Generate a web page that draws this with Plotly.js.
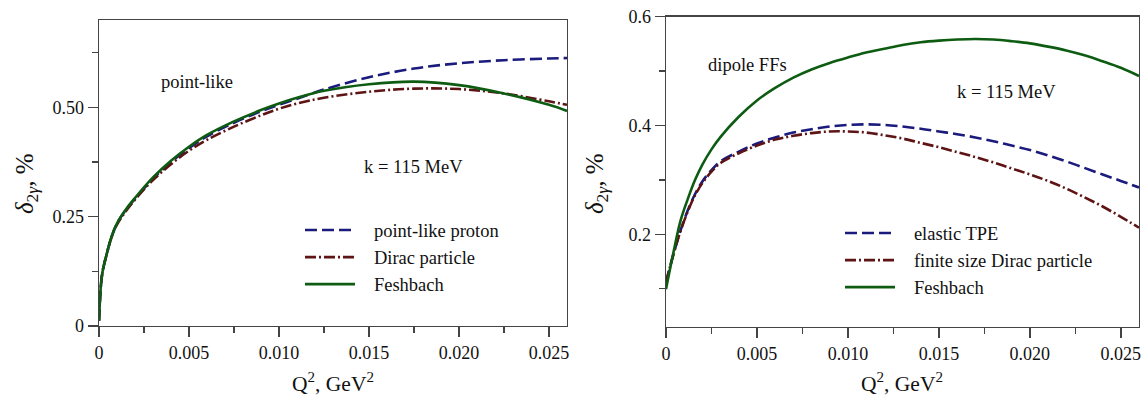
<!DOCTYPE html>
<html>
<head>
<meta charset="utf-8">
<script src="https://cdn.plot.ly/plotly-3.0.1.min.js"></script>
<style>html,body{margin:0;padding:0;background:#fff;}#chart{width:1142px;height:400px;}</style>
</head>
<body>
<div id="chart"></div>
<script>
// ---------- data ----------
const q2Left = [0, 0.0001, 0.0002, 0.0004, 0.0007, 0.001, 0.0015, 0.002, 0.003, 0.004, 0.005, 0.006, 0.0075, 0.009, 0.010, 0.011, 0.0125, 0.015, 0.0175, 0.020, 0.0225, 0.025, 0.026];
const pointLikeProton = [0.012, 0.09, 0.125, 0.16, 0.204, 0.234, 0.266, 0.291, 0.337, 0.375, 0.407, 0.434, 0.465, 0.491, 0.506, 0.520, 0.541, 0.569, 0.589, 0.601, 0.608, 0.612, 0.613];
const diracParticle   = [0.012, 0.09, 0.125, 0.16, 0.203, 0.232, 0.263, 0.289, 0.334, 0.370, 0.401, 0.426, 0.456, 0.482, 0.497, 0.509, 0.522, 0.536, 0.543, 0.542, 0.532, 0.514, 0.506];
const feshbachLeft    = [0.012, 0.09, 0.125, 0.16, 0.205, 0.235, 0.267, 0.293, 0.340, 0.378, 0.410, 0.437, 0.468, 0.494, 0.509, 0.522, 0.538, 0.553, 0.559, 0.551, 0.532, 0.506, 0.492];

const q2Right = [0, 0.0004, 0.0008, 0.0012, 0.0016, 0.002, 0.0025, 0.003, 0.004, 0.005, 0.006, 0.007, 0.008, 0.009, 0.010, 0.011, 0.012, 0.013, 0.014, 0.015, 0.016, 0.017, 0.018, 0.019, 0.020, 0.021, 0.022, 0.023, 0.024, 0.025, 0.026];
const elasticTPE   = [0.112, 0.162, 0.207, 0.244, 0.274, 0.297, 0.318, 0.334, 0.352, 0.367, 0.378, 0.387, 0.393, 0.398, 0.401, 0.402, 0.401, 0.398, 0.394, 0.389, 0.384, 0.378, 0.371, 0.363, 0.355, 0.345, 0.334, 0.322, 0.310, 0.298, 0.286];
const finiteDirac  = [0.112, 0.162, 0.206, 0.242, 0.272, 0.294, 0.315, 0.331, 0.349, 0.363, 0.374, 0.381, 0.386, 0.389, 0.389, 0.387, 0.382, 0.376, 0.368, 0.360, 0.351, 0.342, 0.332, 0.321, 0.310, 0.298, 0.284, 0.268, 0.251, 0.232, 0.212];
const feshbachRight = [0.099, 0.165, 0.225, 0.265, 0.300, 0.328, 0.356, 0.379, 0.416, 0.446, 0.469, 0.488, 0.503, 0.515, 0.525, 0.534, 0.541, 0.548, 0.553, 0.556, 0.558, 0.559, 0.558, 0.555, 0.551, 0.545, 0.538, 0.529, 0.518, 0.506, 0.491];

const leftNames  = ['point-like proton', 'Dirac particle', 'Feshbach'];
const rightNames = ['elastic TPE', 'finite size Dirac particle', 'Feshbach'];

const xTickVals = [0, 0.005, 0.010, 0.015, 0.020, 0.025];
const xTickText = ['0', '0.005', '0.010', '0.015', '0.020', '0.025'];
const yLeftTickVals = [0, 0.25, 0.50];
const yLeftTickText = ['0', '0.25', '0.50'];
const yRightTickVals = [0.2, 0.4, 0.6];
const yRightTickText = ['0.2', '0.4', '0.6'];

const labelLeft = 'point-like';
const labelRight = 'dipole FFs';
const labelEnergy = 'k = 115 MeV';
const xTitle = 'Q<sup>2</sup>, GeV<sup>2</sup>';
const yTitle = '<i>δ</i><sub>2<i>γ</i></sub>, %';

// ---------- styling ----------
const W = 1142, H = 400;
const FONT = 'Liberation Serif, Times New Roman, serif';
const BLUE = '#1b1b7d', BROWN = '#5e1414', GREEN = '#0d5c12';
const AX = '#444';
const pad = '\u00a0\u00a0\u00a0';

function px(x) { return x / W; }
function py(y) { return 1 - y / H; }

const SM = 1.0;
const traces = [
  {x: q2Left, y: pointLikeProton, name: pad + leftNames[0], xaxis: 'x', yaxis: 'y', legend: 'legend',
   mode: 'lines', line: {color: BLUE, width: 2.6, dash: '12px,5px', shape: 'spline', smoothing: SM}},
  {x: q2Left, y: diracParticle, name: pad + leftNames[1], xaxis: 'x', yaxis: 'y', legend: 'legend',
   mode: 'lines', line: {color: BROWN, width: 2.6, dash: '11px,3px,2px,3px', shape: 'spline', smoothing: SM}},
  {x: q2Left, y: feshbachLeft, name: pad + leftNames[2], xaxis: 'x', yaxis: 'y', legend: 'legend',
   mode: 'lines', line: {color: GREEN, width: 2.6, shape: 'spline', smoothing: SM}},
  {x: q2Right, y: elasticTPE, name: pad + rightNames[0], xaxis: 'x2', yaxis: 'y2', legend: 'legend2',
   mode: 'lines', line: {color: BLUE, width: 2.6, dash: '12px,5px', shape: 'spline', smoothing: SM}},
  {x: q2Right, y: finiteDirac, name: pad + rightNames[1], xaxis: 'x2', yaxis: 'y2', legend: 'legend2',
   mode: 'lines', line: {color: BROWN, width: 2.6, dash: '11px,3px,2px,3px', shape: 'spline', smoothing: SM}},
  {x: q2Right, y: feshbachRight, name: pad + rightNames[2], xaxis: 'x2', yaxis: 'y2', legend: 'legend2',
   mode: 'lines', line: {color: GREEN, width: 2.6, shape: 'spline', smoothing: SM}}
];

function xAxis(domain, anchor) {
  return {
    domain: domain, anchor: anchor, range: [0, 0.026],
    showline: true, mirror: true, linecolor: AX, linewidth: 1.4,
    ticks: 'outside', ticklen: 10, tickwidth: 1.4, tickcolor: AX,
    tickmode: 'array', tickvals: xTickVals, ticktext: xTickText,
    minor: {dtick: 0.0025, tick0: 0, ticks: 'outside', ticklen: 6, tickwidth: 1.4, tickcolor: AX, showgrid: false},
    tickfont: {family: FONT, size: 18, color: '#111'},
    showgrid: false, zeroline: false, fixedrange: true
  };
}
function yAxis(domain, anchor, range, vals, text, minorStep) {
  return {
    domain: domain, anchor: anchor, range: range,
    showline: true, mirror: true, linecolor: AX, linewidth: 1.4,
    ticks: 'outside', ticklen: 10, tickwidth: 1.4, tickcolor: AX,
    tickmode: 'array', tickvals: vals, ticktext: text,
    minor: {dtick: minorStep, tick0: 0, ticks: 'outside', ticklen: 6, tickwidth: 1.4, tickcolor: AX, showgrid: false},
    tickfont: {family: FONT, size: 18, color: '#111'},
    showgrid: false, zeroline: false, fixedrange: true
  };
}

const txt = (text, x, y, size, extra) => Object.assign({
  text: text, xref: 'paper', yref: 'paper', x: px(x), y: py(y),
  xanchor: 'center', yanchor: 'middle', showarrow: false,
  font: {family: FONT, size: size, color: '#111'}
}, extra || {});

const layout = {
  width: W, height: H,
  margin: {l: 0, r: 0, t: 0, b: 0, pad: 0},
  paper_bgcolor: '#fff', plot_bgcolor: '#fff',
  showlegend: true,
  xaxis: xAxis([px(99), px(567)], 'y'),
  yaxis: yAxis([py(326), py(20)], 'x', [0, 0.7], yLeftTickVals, yLeftTickText, 0.125),
  xaxis2: xAxis([px(666), px(1139)], 'y2'),
  yaxis2: yAxis([py(326.7), py(16.7)], 'x2', [0.03, 0.6], yRightTickVals, yRightTickText, 0.1),
  legend: {x: px(300), y: py(211.5), xanchor: 'left', yanchor: 'top', bgcolor: 'rgba(0,0,0,0)',
           borderwidth: 0, itemwidth: 50, tracegroupgap: 0,
           font: {family: FONT, size: 18.5, color: '#111'}},
  legend2: {x: px(840), y: py(214.5), xanchor: 'left', yanchor: 'top', bgcolor: 'rgba(0,0,0,0)',
            borderwidth: 0, itemwidth: 50, tracegroupgap: 0,
            font: {family: FONT, size: 18.5, color: '#111'}},
  annotations: [
    txt(labelLeft, 196.5, 82, 18.5),
    txt(labelEnergy, 413, 167, 18.5),
    txt(labelRight, 747.5, 65, 18.5),
    txt(labelEnergy, 1006.5, 92.5, 18.5),
    txt(xTitle, 333, 382, 21.5),
    txt(xTitle, 902, 382, 21.5),
    txt(yTitle, 26, 184, 25, {textangle: -90}),
    txt(yTitle, 596, 184, 25, {textangle: -90})
  ]
};

Plotly.newPlot('chart', traces, layout, {displayModeBar: false, staticPlot: true});
</script>
</body>
</html>
